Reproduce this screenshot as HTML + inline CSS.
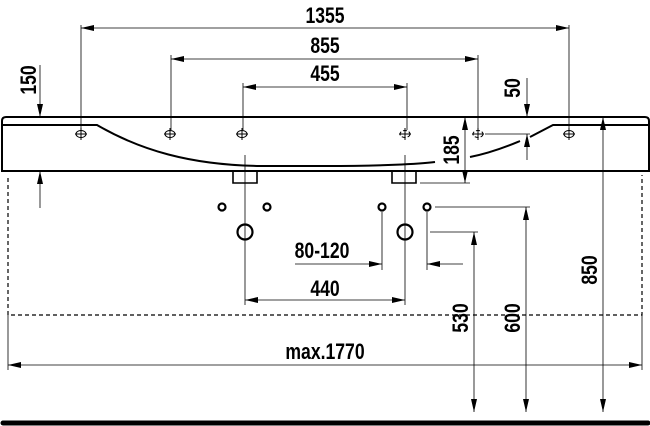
<!DOCTYPE html>
<html><head><style>
html,body{margin:0;padding:0;background:#fff;}
body{position:relative;width:650px;height:426px;overflow:hidden;}
svg{display:block;position:absolute;left:0;top:0;}
text{font-family:"Liberation Sans",sans-serif;font-weight:bold;font-size:22px;fill:#000;}
.a{position:absolute;width:0;height:0;border-style:solid;border-color:transparent;}
.r{border-width:3.5px 0 3.5px 13px;border-left-color:#000;}
.l{border-width:3.5px 13px 3.5px 0;border-right-color:#000;}
.d{border-width:13px 3.5px 0 3.5px;border-top-color:#000;}
.u{border-width:0 3.5px 13px 3.5px;border-bottom-color:#000;}
</style></head><body>
<svg width="650" height="426" viewBox="0 0 650 426" xmlns="http://www.w3.org/2000/svg">
<g stroke="#000" fill="none">
<path d="M2,171 L2,121 Q2,117 6,117 L645,117 Q649,117 649,121 L649,171 Z" stroke-width="2"/>
<path d="M3,125 L97,125 C140,150 190,165 260,166 L325,166" stroke-width="2"/>
<path d="M325,166 C380,166 420,164 435,162" stroke-width="2"/>
<path d="M470,157 C495,152 515,143 520,141" stroke-width="2"/>
<path d="M530,137 L553,125 L649,125" stroke-width="2"/>
<path d="M233,171 L233,183 L257,183 L257,171" stroke-width="1.6"/>
<path d="M392,171 L392,183 L416,183 L416,171" stroke-width="1.6"/>
<path d="M8,178 L8,315 L642,315 L642,175" stroke-width="1.2" stroke-dasharray="4,3"/>
<g stroke-width="0.8">
<line x1="81" y1="25" x2="81" y2="130"/><line x1="569" y1="25" x2="569" y2="130"/>
<line x1="171" y1="55" x2="171" y2="130"/><line x1="478" y1="55" x2="478" y2="130"/>
<line x1="243" y1="83" x2="243" y2="130"/><line x1="407" y1="83" x2="407" y2="130"/>
<line x1="81" y1="28" x2="569" y2="28"/>
<line x1="171" y1="59" x2="478" y2="59"/>
<line x1="243" y1="87" x2="407" y2="87"/>
<line x1="40" y1="65" x2="40" y2="117"/>
<line x1="40" y1="208" x2="40" y2="171"/>
<line x1="527" y1="78" x2="527" y2="117"/>
<line x1="527" y1="160" x2="527" y2="134"/>
<line x1="485" y1="134" x2="530" y2="134"/>
<line x1="465" y1="117" x2="465" y2="183"/>
<line x1="420" y1="183" x2="470" y2="183"/>
<line x1="603" y1="412" x2="603" y2="117"/>
<line x1="435" y1="207" x2="530" y2="207"/>
<line x1="526" y1="412" x2="526" y2="207"/>
<line x1="430" y1="232" x2="478" y2="232"/>
<line x1="474" y1="412" x2="474" y2="232"/>
<line x1="245" y1="155" x2="245" y2="305"/><line x1="405" y1="155" x2="405" y2="305"/>
<line x1="245" y1="300" x2="405" y2="300"/>
<line x1="382" y1="212" x2="382" y2="270"/><line x1="427" y1="212" x2="427" y2="270"/>
<line x1="295" y1="264" x2="382" y2="264"/>
<line x1="463" y1="264" x2="427" y2="264"/>
<line x1="8" y1="315" x2="8" y2="370"/><line x1="642" y1="315" x2="642" y2="370"/>
<line x1="8" y1="365" x2="642" y2="365"/>
</g>
<g stroke-width="1">
<ellipse cx="81" cy="134" rx="5" ry="3.5"/><line x1="75" y1="134" x2="87" y2="134"/>
<ellipse cx="170" cy="134" rx="5" ry="3.5"/><line x1="164" y1="134" x2="176" y2="134"/>
<ellipse cx="242" cy="134" rx="5" ry="3.5"/><line x1="236" y1="134" x2="248" y2="134"/>
<ellipse cx="405" cy="134" rx="5" ry="3.5" stroke-dasharray="4,2"/><line x1="399" y1="134" x2="411" y2="134"/>
<ellipse cx="478" cy="134" rx="5" ry="3.5" stroke-dasharray="4,2"/><line x1="472" y1="134" x2="484" y2="134"/>
<ellipse cx="569" cy="134" rx="5" ry="3.5"/><line x1="563" y1="134" x2="575" y2="134"/>
<line x1="81" y1="128" x2="81" y2="140"/><line x1="170" y1="128" x2="170" y2="140"/>
<line x1="242" y1="128" x2="242" y2="140"/><line x1="405" y1="128" x2="405" y2="140"/>
<line x1="478" y1="128" x2="478" y2="140"/><line x1="569" y1="128" x2="569" y2="140"/>
</g>
<g stroke-width="2.2">
<circle cx="222" cy="207" r="3.5"/><circle cx="267" cy="207" r="3.5"/>
<circle cx="382" cy="207" r="3.5"/><circle cx="427" cy="207" r="3.5"/>
<circle cx="245" cy="232" r="7.5"/><circle cx="405" cy="232" r="7.5"/>
</g>
<line x1="3" y1="423" x2="648" y2="423" stroke-width="5" stroke-linecap="round"/>
</g>
<g text-anchor="middle">
<text transform="translate(325,23) scale(0.8,1)">1355</text>
<text transform="translate(325,53) scale(0.8,1)">855</text>
<text transform="translate(325,81) scale(0.8,1)">455</text>
<text transform="translate(322,258) scale(0.8,1)">80-120</text>
<text transform="translate(325,296) scale(0.8,1)">440</text>
<text transform="translate(325,359) scale(0.8,1)">max.1770</text>
<text transform="translate(36,80) rotate(-90) scale(0.8,1)">150</text>
<text transform="translate(520,88) rotate(-90) scale(0.8,1)">50</text>
<text transform="translate(459,150) rotate(-90) scale(0.8,1)">185</text>
<text transform="translate(597,270) rotate(-90) scale(0.8,1)">850</text>
<text transform="translate(520,318) rotate(-90) scale(0.8,1)">600</text>
<text transform="translate(468,318) rotate(-90) scale(0.8,1)">530</text>
</g>
</svg>
<div class="a r" style="left:556px;top:24.5px"></div>
<div class="a r" style="left:465px;top:55.5px"></div>
<div class="a r" style="left:394px;top:83.5px"></div>
<div class="a r" style="left:392px;top:296.5px"></div>
<div class="a r" style="left:369px;top:260.5px"></div>
<div class="a r" style="left:629px;top:361.5px"></div>
<div class="a l" style="left:81px;top:24.5px"></div>
<div class="a l" style="left:171px;top:55.5px"></div>
<div class="a l" style="left:243px;top:83.5px"></div>
<div class="a l" style="left:245px;top:296.5px"></div>
<div class="a l" style="left:427px;top:260.5px"></div>
<div class="a l" style="left:8px;top:361.5px"></div>
<div class="a d" style="left:36.5px;top:104px"></div>
<div class="a d" style="left:523.5px;top:104px"></div>
<div class="a d" style="left:461.5px;top:170px"></div>
<div class="a d" style="left:599.5px;top:399px"></div>
<div class="a d" style="left:522.5px;top:399px"></div>
<div class="a d" style="left:470.5px;top:399px"></div>
<div class="a u" style="left:36.5px;top:171px"></div>
<div class="a u" style="left:523.5px;top:134px"></div>
<div class="a u" style="left:461.5px;top:117px"></div>
<div class="a u" style="left:599.5px;top:117px"></div>
<div class="a u" style="left:522.5px;top:207px"></div>
<div class="a u" style="left:470.5px;top:232px"></div>
</body></html>
